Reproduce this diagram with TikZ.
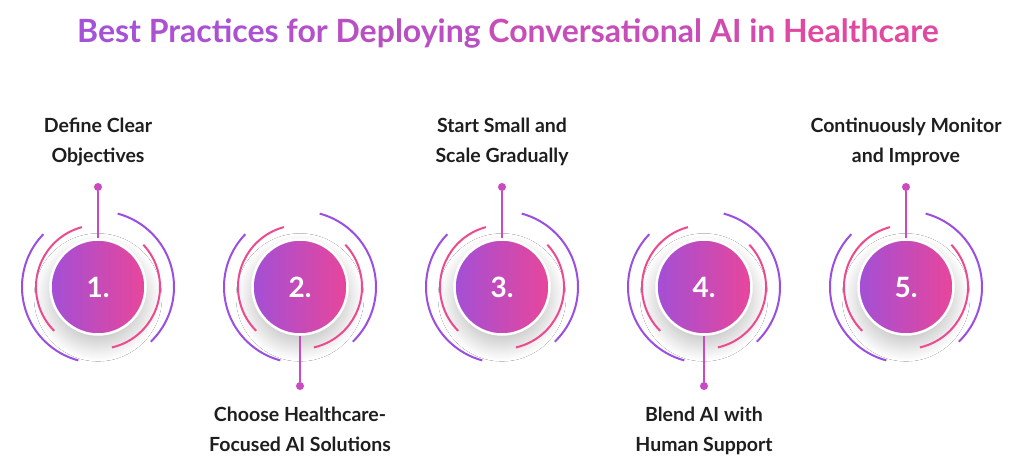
\documentclass[tikz,border=0pt]{standalone}
\usepackage{fontspec}
\setmainfont{Lato}
\usepackage{xcolor}
\usetikzlibrary{positioning, shadows.blur}
\definecolor{tpurple}{HTML}{A652D8}
\definecolor{tpink}{HTML}{E6489A}
\definecolor{apurple}{HTML}{9B4FE2}
\definecolor{apink}{HTML}{EC4A8F}
\definecolor{stemmag}{HTML}{CB49C1}
\definecolor{ballleft}{HTML}{A34FD6}
\definecolor{ballright}{HTML}{E8469A}
\definecolor{labeltext}{HTML}{1E1E1E}

\tikzset{
  ball/.style={circle, minimum size=95pt, inner sep=0pt, left color=ballleft, right color=ballright,
    draw=white, line width=2.5pt, text=white, font=\fontsize{28}{30}\selectfont\bfseries,
    blur shadow={shadow xshift=0pt, shadow yshift=-10pt, shadow blur radius=14pt, shadow blur steps=40,
      shadow opacity=22, shadow scale=1.04}},
  pinkarc/.style={apink, line width=2pt},
  purplearc/.style={apurple, line width=2pt},
  stem/.style={stemmag, line width=2pt},
  stemdot/.style={circle, fill=stemmag, minimum size=8pt, inner sep=0pt},
  steplabel/.style={align=center, inner sep=0pt, text=labeltext, font=\fontsize{19.5}{30}\selectfont\bfseries}
}

\begin{document}
\begin{tikzpicture}[x=1pt, y=1pt]
\useasboundingbox (0,0) rectangle (1020,475);
\fill[white] (0,0) rectangle (1020,475);
\node[font=\fontsize{32}{34}\selectfont\bfseries] (title) at (508,442)
  {\textcolor{tpurple}{Best} \textcolor{tpink!10!tpurple}{Practices} \textcolor{tpink!22!tpurple}{for}
   \textcolor{tpink!32!tpurple}{Deploying} \textcolor{tpink!52!tpurple}{Conversational}
   \textcolor{tpink!66!tpurple}{AI} \textcolor{tpink!72!tpurple}{in} \textcolor{tpink!90!tpurple}{Healthcare}};

% step circles
\node[ball] (c1) at (98,188) {1.};
\node[ball] (c2) at (300,188) {2.};
\node[ball] (c3) at (502,188) {3.};
\node[ball] (c4) at (704,188) {4.};
\node[ball] (c5) at (906,188) {5.};

% rings
\draw[pinkarc] (c1.center) ++(105:62pt) arc[start angle=105, end angle=225, radius=62pt];
\draw[pinkarc] (c1.center) ++(-77:62pt) arc[start angle=-77, end angle=43, radius=62pt];
\draw[purplearc] (c1.center) ++(136:76pt) arc[start angle=136, end angle=255, radius=76pt];
\draw[purplearc] (c1.center) ++(-46:76pt) arc[start angle=-46, end angle=75, radius=76pt];
\draw[pinkarc] (c2.center) ++(105:62pt) arc[start angle=105, end angle=225, radius=62pt];
\draw[pinkarc] (c2.center) ++(-77:62pt) arc[start angle=-77, end angle=43, radius=62pt];
\draw[purplearc] (c2.center) ++(136:76pt) arc[start angle=136, end angle=255, radius=76pt];
\draw[purplearc] (c2.center) ++(-46:76pt) arc[start angle=-46, end angle=75, radius=76pt];
\draw[pinkarc] (c3.center) ++(105:62pt) arc[start angle=105, end angle=225, radius=62pt];
\draw[pinkarc] (c3.center) ++(-77:62pt) arc[start angle=-77, end angle=43, radius=62pt];
\draw[purplearc] (c3.center) ++(136:76pt) arc[start angle=136, end angle=255, radius=76pt];
\draw[purplearc] (c3.center) ++(-46:76pt) arc[start angle=-46, end angle=75, radius=76pt];
\draw[pinkarc] (c4.center) ++(105:62pt) arc[start angle=105, end angle=225, radius=62pt];
\draw[pinkarc] (c4.center) ++(-77:62pt) arc[start angle=-77, end angle=43, radius=62pt];
\draw[purplearc] (c4.center) ++(136:76pt) arc[start angle=136, end angle=255, radius=76pt];
\draw[purplearc] (c4.center) ++(-46:76pt) arc[start angle=-46, end angle=75, radius=76pt];
\draw[pinkarc] (c5.center) ++(105:62pt) arc[start angle=105, end angle=225, radius=62pt];
\draw[pinkarc] (c5.center) ++(-77:62pt) arc[start angle=-77, end angle=43, radius=62pt];
\draw[purplearc] (c5.center) ++(136:76pt) arc[start angle=136, end angle=255, radius=76pt];
\draw[purplearc] (c5.center) ++(-46:76pt) arc[start angle=-46, end angle=75, radius=76pt];

% stems and dots
\node[stemdot] (d1) at (98,288) {};
\node[stemdot] (d2) at (300,89) {};
\node[stemdot] (d3) at (502,288) {};
\node[stemdot] (d4) at (704,89) {};
\node[stemdot] (d5) at (906,288) {};
\draw[stem] (c1.north) -- (d1);
\draw[stem] (c2.south) -- (d2);
\draw[stem] (c3.north) -- (d3);
\draw[stem] (c4.south) -- (d4);
\draw[stem] (c5.north) -- (d5);

% labels
\node[steplabel, above=17pt of d1] (l1) {Define Clear\\Objectives};
\node[steplabel, below=17pt of d2] (l2) {Choose Healthcare-\\Focused AI Solutions};
\node[steplabel, above=17pt of d3] (l3) {Start Small and\\Scale Gradually};
\node[steplabel, below=17pt of d4] (l4) {Blend AI with\\Human Support};
\node[steplabel, above=17pt of d5] (l5) {Continuously Monitor\\and Improve};
\end{tikzpicture}
\end{document}
